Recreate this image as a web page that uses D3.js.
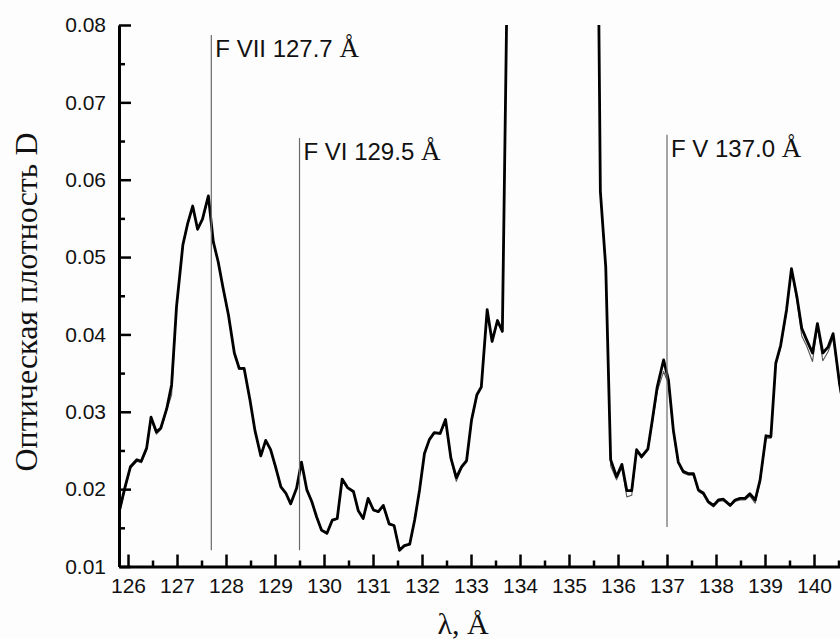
<!DOCTYPE html>
<html>
<head>
<meta charset="utf-8">
<script src="https://cdn.jsdelivr.net/npm/d3@7"></script>
<style>
  html, body { margin: 0; padding: 0; background: #fdfdfd; }
  svg { display: block; }
</style>
</head>
<body>
<div id="chart"></div>
<script>
// Wavelength grid, Å
const wavelength = [
  125.82, 125.94, 126.05, 126.18, 126.27, 126.38, 126.47, 126.58, 126.67, 126.79,
  126.89, 126.99, 127.12, 127.22, 127.32, 127.42, 127.52, 127.64, 127.74, 127.84,
  127.94, 128.05, 128.17, 128.27, 128.37, 128.49, 128.59, 128.71, 128.81, 128.91,
  129.01, 129.12, 129.22, 129.32, 129.44, 129.54, 129.65, 129.75, 129.85, 129.95,
  130.06, 130.17, 130.27, 130.37, 130.48, 130.60, 130.70, 130.80, 130.90, 131.01,
  131.11, 131.21, 131.33, 131.43, 131.54, 131.64, 131.75, 131.85, 131.95, 132.05,
  132.15, 132.25, 132.37, 132.48, 132.59, 132.70, 132.81, 132.91, 133.01, 133.12,
  133.21, 133.33, 133.43, 133.54, 133.64, 133.74, 135.54, 135.64, 135.75, 135.85,
  135.97, 136.08, 136.18, 136.28, 136.38, 136.48, 136.61, 136.70, 136.80, 136.93,
  137.03, 137.13, 137.23, 137.33, 137.44, 137.54, 137.64, 137.74, 137.84, 137.95,
  138.05, 138.15, 138.29, 138.39, 138.49, 138.59, 138.69, 138.80, 138.90, 139.02,
  139.12, 139.22, 139.32, 139.44, 139.54, 139.65, 139.75, 139.85, 139.97, 140.07,
  140.18, 140.29, 140.39, 140.52, 140.62
];

// Optical density, main exposure
const densityMain = [
  0.0171, 0.0203, 0.0229, 0.0238, 0.0236, 0.0253, 0.0293, 0.0274, 0.0279, 0.0304,
  0.0335, 0.0436, 0.0516, 0.0544, 0.0566, 0.0536, 0.0549, 0.0579, 0.0520, 0.0494,
  0.0460, 0.0425, 0.0376, 0.0356, 0.0356, 0.0315, 0.0276, 0.0243, 0.0263, 0.0251,
  0.0229, 0.0203, 0.0195, 0.0181, 0.0201, 0.0235, 0.0199, 0.0184, 0.0164, 0.0147,
  0.0143, 0.0160, 0.0162, 0.0213, 0.0202, 0.0197, 0.0172, 0.0162, 0.0188, 0.0173,
  0.0171, 0.0179, 0.0155, 0.0153, 0.0121, 0.0127, 0.0129, 0.0160, 0.0199, 0.0246,
  0.0264, 0.0273, 0.0272, 0.0290, 0.0240, 0.0215, 0.0229, 0.0237, 0.0289, 0.0322,
  0.0332, 0.0432, 0.0391, 0.0418, 0.0404, 0.0870, 0.1300, 0.0585, 0.0487, 0.0238,
  0.0216, 0.0232, 0.0198, 0.0198, 0.0251, 0.0242, 0.0252, 0.0289, 0.0332, 0.0367,
  0.0341, 0.0276, 0.0235, 0.0223, 0.0220, 0.0220, 0.0199, 0.0195, 0.0184, 0.0179,
  0.0186, 0.0187, 0.0179, 0.0186, 0.0188, 0.0188, 0.0194, 0.0186, 0.0212, 0.0269,
  0.0268, 0.0363, 0.0386, 0.0432, 0.0485, 0.0449, 0.0408, 0.0393, 0.0376, 0.0414,
  0.0376, 0.0384, 0.0401, 0.0337, 0.0300
];

// Optical density, second exposure
const densitySecond = [
  0.0167, 0.0200, 0.0227, 0.0236, 0.0234, 0.0251, 0.0290, 0.0271, 0.0277, 0.0302,
  0.0322, 0.0434, 0.0514, 0.0543, 0.0565, 0.0535, 0.0548, 0.0577, 0.0519, 0.0493,
  0.0459, 0.0424, 0.0375, 0.0355, 0.0355, 0.0314, 0.0275, 0.0242, 0.0262, 0.0250,
  0.0228, 0.0202, 0.0194, 0.0180, 0.0200, 0.0233, 0.0198, 0.0183, 0.0163, 0.0146,
  0.0142, 0.0159, 0.0161, 0.0211, 0.0201, 0.0196, 0.0171, 0.0161, 0.0187, 0.0172,
  0.0170, 0.0178, 0.0154, 0.0152, 0.0120, 0.0126, 0.0128, 0.0159, 0.0198, 0.0245,
  0.0263, 0.0272, 0.0271, 0.0288, 0.0238, 0.0210, 0.0227, 0.0235, 0.0287, 0.0320,
  0.0331, 0.0430, 0.0390, 0.0416, 0.0403, 0.0870, 0.1300, 0.0583, 0.0485, 0.0230,
  0.0212, 0.0228, 0.0190, 0.0192, 0.0249, 0.0240, 0.0250, 0.0285, 0.0326, 0.0352,
  0.0336, 0.0272, 0.0233, 0.0221, 0.0218, 0.0218, 0.0197, 0.0193, 0.0182, 0.0177,
  0.0184, 0.0185, 0.0178, 0.0184, 0.0186, 0.0186, 0.0191, 0.0182, 0.0209, 0.0266,
  0.0266, 0.0360, 0.0383, 0.0428, 0.0482, 0.0444, 0.0398, 0.0385, 0.0365, 0.0410,
  0.0366, 0.0378, 0.0396, 0.0333, 0.0296
];

// Line identifications
const lineIons = ["F VII", "F VI", "F V"];
const lineWavelengths = [127.7, 129.5, 137.0];
const lineTopD = [0.0787, 0.0654, 0.0658];
const lineBottomD = [0.0121, 0.0121, 0.0151];

// Axis ticks
const xMajorTicks = [126, 127, 128, 129, 130, 131, 132, 133, 134, 135, 136, 137, 138, 139, 140];
const xMinorTicks = [126.5, 127.5, 128.5, 129.5, 130.5, 131.5, 132.5, 133.5, 134.5, 135.5, 136.5, 137.5, 138.5, 139.5, 140.5];
const yMajorTicks = [0.01, 0.02, 0.03, 0.04, 0.05, 0.06, 0.07, 0.08];
const yMinorTicks = [0.015, 0.025, 0.035, 0.045, 0.055, 0.065, 0.075];

const W = 840, H = 639;
const sansFont = "'Liberation Sans', Arial, Helvetica, sans-serif";
const serifFont = "'Liberation Serif', 'Times New Roman', Times, serif";

const svg = d3.select("#chart").append("svg")
  .attr("width", W).attr("height", H);

const x = d3.scaleLinear().domain([125.816, 140.551]).range([119, 841]);
const y = d3.scaleLinear().domain([0.01, 0.08]).range([566.5, 25]);

// clip to plotting area
svg.append("defs").append("clipPath").attr("id", "plotClip")
  .append("rect")
  .attr("x", x.range()[0]).attr("y", y.range()[1])
  .attr("width", x.range()[1] - x.range()[0])
  .attr("height", y.range()[0] - y.range()[1]);

const plot = svg.append("g").attr("clip-path", "url(#plotClip)");

// identification markers
const marks = lineIons.map((ion, i) => ({
  ion, wl: lineWavelengths[i], top: lineTopD[i], bottom: lineBottomD[i]
}));

svg.append("g").selectAll("line").data(marks).join("line")
  .attr("x1", d => x(d.wl)).attr("x2", d => x(d.wl))
  .attr("y1", d => y(d.top)).attr("y2", d => y(d.bottom))
  .attr("stroke", "#6a6a6a").attr("stroke-width", 1.2);

// spectra
const lineGen = d3.line()
  .x(d => x(d[0])).y(d => y(d[1]));

plot.append("path")
  .datum(wavelength.map((w, i) => [w, densitySecond[i]]))
  .attr("d", lineGen)
  .attr("fill", "none").attr("stroke", "#555").attr("stroke-width", 1.1)
  .attr("stroke-linejoin", "round");

plot.append("path")
  .datum(wavelength.map((w, i) => [w, densityMain[i]]))
  .attr("d", lineGen)
  .attr("fill", "none").attr("stroke", "#000").attr("stroke-width", 2.8)
  .attr("stroke-linejoin", "round");

// axes
const fmtY = d3.format(".2f");

svg.append("g").attr("transform", `translate(${x.range()[0]},0)`)
  .call(d3.axisLeft(y).tickValues(yMajorTicks).tickFormat(fmtY)
    .tickSizeInner(-12).tickSizeOuter(0).tickPadding(13));
svg.append("g").attr("transform", `translate(${x.range()[0]},0)`)
  .call(d3.axisLeft(y).tickValues(yMinorTicks).tickFormat("")
    .tickSizeInner(-6).tickSizeOuter(0))
  .call(g => g.select(".domain").remove());

svg.append("g").attr("transform", `translate(0,${y.range()[0]})`)
  .call(d3.axisBottom(x).tickValues(xMajorTicks).tickFormat(d3.format("d"))
    .tickSizeInner(-12).tickSizeOuter(0).tickPadding(12));
svg.append("g").attr("transform", `translate(0,${y.range()[0]})`)
  .call(d3.axisBottom(x).tickValues(xMinorTicks).tickFormat("")
    .tickSizeInner(-6).tickSizeOuter(0))
  .call(g => g.select(".domain").remove());

svg.selectAll(".domain").attr("stroke", "#000").attr("stroke-width", 3);
svg.selectAll(".tick line").attr("stroke", "#000").attr("stroke-width", 2.5);
svg.selectAll(".tick text")
  .attr("font-family", sansFont).attr("font-size", 21).attr("fill", "#111");

// identification labels
const labels = svg.append("g").selectAll("text").data(marks).join("text")
  .attr("x", d => x(d.wl) + 4)
  .attr("y", d => y(d.top) + 22)
  .attr("font-family", sansFont).attr("font-size", 24).attr("fill", "#111");
labels.append("tspan").text(d => `${d.ion} ${d.wl.toFixed(1)} `);
labels.append("tspan").attr("font-family", serifFont).attr("font-size", 27).text("Å");

// axis titles
svg.append("text")
  .attr("transform", "translate(37,302) rotate(-90)")
  .attr("text-anchor", "middle")
  .attr("font-family", serifFont).attr("font-size", 32).attr("fill", "#111")
  .text("Оптическая плотность D");

svg.append("text")
  .attr("x", 463).attr("y", 634)
  .attr("text-anchor", "middle")
  .attr("font-family", serifFont).attr("font-size", 30).attr("fill", "#111")
  .text("λ, Å");
</script>
</body>
</html>
